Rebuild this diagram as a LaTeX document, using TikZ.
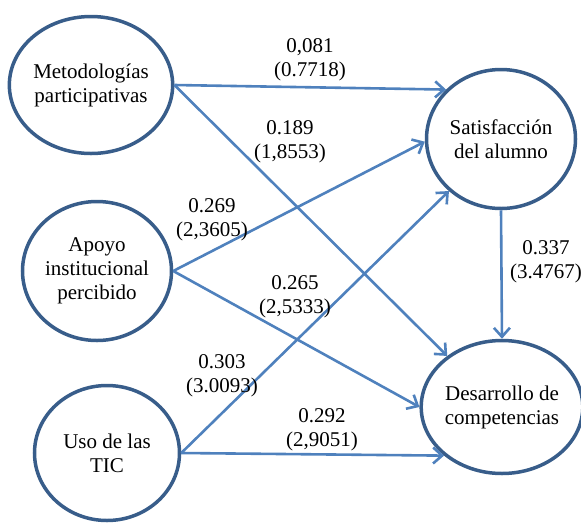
\documentclass[tikz,border=0pt]{standalone}
\usepackage{fontspec}
\setmainfont{Liberation Serif}
\usetikzlibrary{shapes.geometric,arrows.meta}
\definecolor{ringblue}{HTML}{385D8A}
\definecolor{arrowblue}{HTML}{4F81BD}
\tikzset{
  construct/.style={ellipse, draw=ringblue, line width=3.5pt, inner sep=0pt, align=center,
    font=\rmfamily\fontsize{21}{24}\selectfont},
  path/.style={draw=arrowblue, line width=2.6pt, -{Straight Barb[length=9pt,width=16pt]}},
  coef/.style={align=center, inner sep=0pt, font=\rmfamily\fontsize{21}{24}\selectfont}
}
\begin{document}
\begin{tikzpicture}[x=1pt,y=-1pt]
\useasboundingbox (0,0) rectangle (581,523);
\node[construct, minimum width=155pt, minimum height=137pt] (met) at (91,85) {Metodologías\\participativas};
\node[construct, minimum width=149pt, minimum height=139pt] (apo) at (97,271) {Apoyo\\institucional\\percibido};
\node[construct, minimum width=145pt, minimum height=135pt] (uso) at (107,453) {Uso de las\\TIC};
\node[construct, minimum width=149pt, minimum height=139pt] (sat) at (501,139) {Satisfacción\\del alumno};
\node[construct, minimum width=147pt, minimum height=133pt] (des) at (502,407) {Desarrollo de\\competencias};

\draw[path] (met.east) -- (sat.138);
\draw[path] (met.east) -- (des.137);
\draw[path] (apo.east) -- (sat.182);
\draw[path] (apo.east) -- (des.180);
\draw[path] (uso.east) -- (sat.225);
\draw[path] (uso.east) -- (des.220);
\draw[path] (sat.south) -- (des.north);

\node[coef] (c1) at (310,60) {0,081\\(0.7718)};
\node[coef] (c2) at (290,142) {0.189\\(1,8553)};
\node[coef] (c3) at (212,220) {0.269\\(2,3605)};
\node[coef] (c4) at (295,297) {0.265\\(2,5333)};
\node[coef] (c5) at (222,376) {0.303\\(3.0093)};
\node[coef] (c6) at (322,430) {0.292\\(2,9051)};
\node[coef] (c7) at (546,262) {0.337\\(3.4767)};
\end{tikzpicture}
\end{document}
